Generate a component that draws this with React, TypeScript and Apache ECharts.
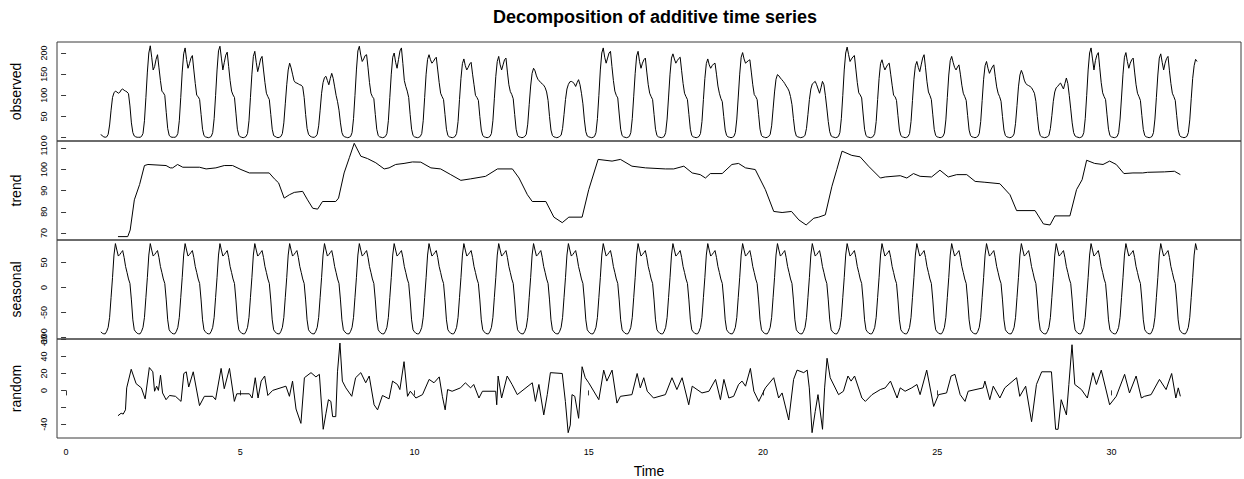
import React, { useEffect, useRef } from "react";
import * as echarts from "echarts";

const FONT = "'Liberation Sans', Arial, Helvetica, sans-serif";

// observed: hourly values (frequency 24), one row per day, starting at time 1
const observedDays: number[][] = [
  [8, 4, 2, 1, 2, 8, 30, 65, 95, 106, 110, 108, 105, 107, 113, 115, 112, 110, 108, 104, 75, 35, 12, 4],
  [2, 1, 1, 1, 3, 10, 40, 95, 155, 200, 217, 190, 160, 168, 185, 196, 165, 135, 110, 106, 100, 60, 22, 6],
  [2, 1, 1, 1, 3, 10, 40, 95, 155, 198, 212, 185, 164, 175, 188, 194, 160, 128, 100, 97, 90, 55, 20, 5],
  [2, 1, 0, 1, 3, 12, 45, 100, 160, 205, 216, 188, 160, 178, 195, 202, 168, 135, 110, 101, 95, 58, 20, 6],
  [2, 1, 0, 1, 3, 10, 40, 95, 150, 192, 204, 178, 156, 170, 186, 192, 160, 130, 105, 97, 90, 55, 20, 5],
  [3, 1, 0, 1, 3, 10, 35, 80, 125, 160, 176, 165, 150, 135, 130, 129, 127, 125, 124, 120, 95, 55, 22, 8],
  [4, 2, 1, 1, 3, 8, 28, 65, 105, 130, 142, 145, 135, 125, 140, 152, 140, 120, 100, 85, 65, 35, 12, 4],
  [2, 1, 0, 1, 3, 12, 45, 100, 160, 205, 216, 195, 180, 186, 194, 196, 165, 130, 105, 97, 92, 55, 20, 5],
  [2, 1, 0, 1, 3, 10, 40, 95, 150, 190, 200, 178, 164, 185, 205, 212, 175, 135, 121, 110, 95, 55, 20, 5],
  [2, 1, 0, 1, 3, 10, 40, 95, 150, 185, 196, 184, 176, 180, 186, 190, 160, 130, 105, 97, 90, 55, 20, 5],
  [2, 1, 0, 1, 3, 10, 38, 90, 140, 175, 186, 170, 160, 166, 174, 178, 150, 125, 100, 95, 88, 50, 18, 5],
  [2, 1, 0, 1, 3, 10, 40, 92, 145, 180, 192, 172, 160, 172, 184, 188, 155, 125, 109, 102, 92, 55, 20, 5],
  [2, 1, 0, 1, 3, 8, 32, 78, 122, 152, 164, 158, 146, 138, 134, 130, 127, 124, 118, 108, 88, 50, 18, 5],
  [2, 1, 0, 1, 3, 6, 22, 55, 90, 115, 126, 132, 133, 131, 128, 121, 130, 137, 125, 105, 80, 42, 14, 4],
  [2, 1, 0, 1, 3, 12, 45, 100, 160, 200, 212, 190, 176, 188, 200, 204, 168, 135, 110, 100, 94, 56, 20, 5],
  [2, 1, 0, 1, 3, 12, 45, 98, 152, 193, 204, 180, 164, 176, 184, 188, 155, 125, 105, 97, 90, 55, 20, 5],
  [2, 1, 0, 1, 3, 12, 44, 96, 150, 188, 198, 186, 176, 182, 187, 190, 158, 128, 105, 97, 90, 55, 20, 5],
  [2, 1, 0, 1, 3, 10, 38, 90, 140, 175, 186, 172, 164, 170, 174, 176, 150, 122, 105, 93, 85, 50, 18, 5],
  [2, 1, 0, 1, 3, 12, 44, 96, 150, 190, 201, 186, 176, 179, 182, 184, 155, 125, 102, 97, 90, 55, 20, 5],
  [2, 1, 0, 1, 3, 8, 28, 68, 108, 138, 149, 146, 141, 137, 133, 128, 122, 117, 110, 97, 78, 45, 16, 4],
  [2, 1, 0, 1, 2, 6, 22, 55, 90, 115, 127, 130, 133, 125, 115, 105, 118, 133, 125, 100, 70, 38, 14, 4],
  [2, 1, 0, 1, 3, 12, 45, 100, 160, 200, 214, 196, 180, 186, 191, 194, 162, 130, 106, 101, 94, 56, 20, 5],
  [2, 1, 0, 1, 3, 10, 38, 90, 140, 175, 184, 170, 160, 167, 173, 176, 150, 124, 100, 97, 88, 52, 18, 5],
  [2, 1, 0, 1, 3, 10, 38, 88, 138, 170, 180, 166, 156, 172, 188, 196, 165, 132, 108, 100, 90, 54, 19, 5],
  [2, 1, 0, 1, 3, 11, 42, 95, 148, 182, 192, 178, 166, 160, 167, 172, 150, 124, 105, 97, 88, 52, 18, 5],
  [2, 1, 0, 1, 3, 10, 38, 88, 138, 170, 180, 164, 152, 160, 167, 172, 145, 120, 105, 97, 86, 50, 18, 5],
  [2, 1, 0, 1, 3, 9, 34, 76, 120, 148, 159, 150, 136, 128, 125, 123, 121, 118, 112, 105, 86, 50, 18, 5],
  [2, 1, 0, 1, 2, 6, 22, 52, 86, 108, 118, 121, 126, 129, 122, 115, 128, 141, 128, 100, 68, 35, 12, 4],
  [2, 1, 0, 1, 3, 12, 45, 100, 160, 200, 212, 186, 160, 182, 195, 201, 165, 130, 106, 97, 90, 54, 20, 5],
  [2, 1, 0, 1, 3, 12, 44, 96, 150, 190, 201, 180, 164, 176, 184, 188, 155, 125, 105, 97, 88, 52, 19, 5],
  [2, 1, 0, 1, 3, 12, 44, 95, 148, 188, 198, 178, 160, 176, 187, 192, 158, 128, 105, 97, 88, 52, 19, 5],
  [2, 1, 0, 1, 3, 12, 42, 92, 140, 170, 185, 180],
];

// seasonal figure (one value per hour of the cycle)
const seasonalFigure = [-89, -92, -93, -93, -88, -80, -60, -20, 20, 65, 88, 75, 63, 66, 70, 74, 60, 42, 30, 17, 8, -25, -65, -85];

// trend readings (time, value)
const trendTime = [1.49, 1.77, 1.84, 1.96, 2.11, 2.25, 2.35, 2.87, 2.99, 3.06, 3.2, 3.35, 3.83, 4.02, 4.3, 4.54, 4.78, 5.02, 5.26, 5.83, 5.98, 6.1, 6.26, 6.41, 6.55, 6.79, 6.93, 7.08, 7.22, 7.36, 7.74, 7.82, 7.98, 8.13, 8.27, 8.46, 8.65, 8.89, 9.13, 9.27, 9.46, 9.7, 9.94, 10.18, 10.47, 10.75, 11.04, 11.33, 11.61, 12.04, 12.38, 12.81, 13.0, 13.24, 13.38, 13.77, 14.0, 14.24, 14.43, 14.81, 15.0, 15.27, 15.67, 15.91, 16.24, 16.63, 17.2, 17.44, 17.73, 17.97, 18.2, 18.35, 18.49, 18.83, 19.11, 19.3, 19.5, 19.78, 20.07, 20.31, 20.55, 20.82, 21.03, 21.24, 21.46, 21.6, 21.79, 21.98, 22.12, 22.27, 22.55, 22.79, 23.03, 23.37, 23.51, 23.94, 24.13, 24.32, 24.51, 24.84, 25.08, 25.32, 25.56, 25.85, 26.09, 26.37, 26.8, 27.09, 27.28, 27.81, 28.05, 28.24, 28.38, 28.81, 29.0, 29.16, 29.29, 29.52, 29.76, 29.95, 30.14, 30.36, 30.62, 30.9, 31.04, 31.52, 31.81, 31.98];
const trendValue = [68.3, 68.3, 71.4, 85.7, 92.9, 101.9, 102.4, 101.9, 100.8, 100.8, 102.4, 101.1, 101.1, 100.3, 100.8, 101.9, 101.9, 100, 98.4, 98.4, 95.6, 93.7, 86.5, 88.1, 89.2, 89.7, 85.7, 81.7, 81.3, 84.9, 84.9, 86.5, 98.4, 105.6, 112.4, 106.3, 105.2, 103.2, 100.3, 100.8, 102.4, 102.9, 103.6, 103.5, 100.8, 100.3, 97.6, 94.9, 95.6, 96.8, 100.3, 100.3, 96, 88.1, 84.9, 84.9, 77.5, 74.9, 77.5, 77.5, 90.5, 104.8, 104, 104.8, 101.6, 100.8, 100.3, 100.3, 101.6, 98.4, 97.6, 96, 98.1, 98.1, 102.4, 102.9, 100.8, 100, 90.5, 80.2, 79.7, 80.2, 76.2, 73.8, 77, 77.5, 78.6, 92.1, 100, 108.7, 106.7, 106, 101.6, 96, 96.5, 97.1, 96, 98.1, 96.8, 96.5, 99.7, 96.5, 97.6, 97.6, 94.4, 94, 93.3, 88.1, 80.6, 80.6, 74.3, 73.8, 78.1, 78.1, 90.5, 95.2, 104.4, 102.9, 102.4, 104, 102.4, 98.1, 98.4, 98.4, 98.7, 98.9, 99.2, 97.6];

// random readings (time, value)
const randomTime = [1.49, 1.58, 1.64, 1.705, 1.74, 1.87, 2.01, 2.16, 2.27, 2.39, 2.49, 2.54, 2.6, 2.65, 2.71, 2.77, 2.87, 2.97, 3.14, 3.3, 3.38, 3.45, 3.52, 3.65, 3.83, 3.97, 4.21, 4.29, 4.45, 4.54, 4.69, 4.83, 4.9, 5.26, 5.34, 5.43, 5.51, 5.6, 5.7, 5.79, 5.93, 6.31, 6.41, 6.5, 6.6, 6.74, 6.84, 7.03, 7.17, 7.27, 7.38, 7.46, 7.53, 7.6, 7.65, 7.74, 7.79, 7.86, 7.93, 8.03, 8.2, 8.31, 8.46, 8.6, 8.7, 8.84, 8.94, 9.08, 9.27, 9.37, 9.51, 9.58, 9.7, 9.8, 9.88, 10.04, 10.23, 10.42, 10.56, 10.71, 10.8, 10.88, 10.95, 11.08, 11.32, 11.46, 11.61, 11.7, 11.85, 11.95, 12.33, 12.36, 12.4, 12.5, 12.66, 12.8, 12.95, 13.38, 13.47, 13.57, 13.71, 13.81, 13.9, 14.24, 14.33, 14.41, 14.47, 14.52, 14.6, 14.71, 14.81, 14.9, 15.0, 15.29, 15.43, 15.52, 15.67, 15.81, 15.91, 16.24, 16.39, 16.48, 16.58, 16.68, 16.86, 17.2, 17.39, 17.53, 17.68, 17.87, 17.97, 18.25, 18.45, 18.64, 18.78, 18.88, 19.02, 19.16, 19.3, 19.4, 19.5, 19.64, 19.74, 19.88, 20.07, 20.31, 20.45, 20.55, 20.74, 20.88, 20.98, 21.17, 21.27, 21.33, 21.41, 21.5, 21.58, 21.71, 21.77, 21.84, 21.93, 22.17, 22.31, 22.44, 22.53, 22.63, 22.84, 22.94, 23.13, 23.37, 23.51, 23.66, 23.85, 23.94, 24.08, 24.27, 24.42, 24.51, 24.7, 24.9, 25.04, 25.27, 25.4, 25.51, 25.66, 25.8, 25.89, 26.32, 26.37, 26.51, 26.61, 26.8, 26.94, 27.28, 27.37, 27.54, 27.71, 27.85, 28.0, 28.28, 28.4, 28.47, 28.56, 28.71, 28.78, 28.87, 28.95, 29.14, 29.31, 29.47, 29.57, 29.71, 29.95, 30.14, 30.38, 30.52, 30.71, 30.86, 30.95, 31.14, 31.38, 31.57, 31.73, 31.85, 31.92, 31.98];
const randomValue = [-30, -27, -28, -23, 3, 25, 8, 3, -10, 27, 22, -1, 5, 0, 18, -3, -11, -6, -7, -13, 20, 22, 4, 22, -18, -7, -7, -11, 26, 2, 26, -13, -4, -4, -9, 15, -9, 11, 17, -6, 0, 5, -7, 11, -22, -39, 15, 21, 16, 19, -46, -27, -11, -13, -31, -31, 22, 56, 11, 3, -7, 15, 21, 9, 17, -17, -23, -6, -10, 11, 7, 1, 34, -7, -1, -9, -5, 13, 9, 16, -7, -23, 1, -1, 3, 9, 3, 7, -9, -1, -1, -17, 17, -9, 17, 7, -5, 9, -13, 7, -29, -5, 21, 20, -13, -50, -41, -5, -7, -33, 28, 15, 9, -11, 24, 11, 24, -15, -7, -5, 20, 3, 15, -1, -9, -5, 15, 1, 15, -17, 5, -3, -1, 13, -11, 13, -9, -7, 7, 11, 5, 26, -1, -13, 3, 15, -9, -3, -35, 13, 24, 21, 24, 3, -50, -25, -5, -46, 3, 38, 15, -5, -1, 17, 11, 17, -9, -13, -5, 1, 3, 11, -9, 3, -1, 3, 7, -5, 24, -19, -5, -3, 17, 19, -5, -13, -1, 3, 11, -11, 5, -9, 3, 15, -7, 5, -37, 7, 22, 22, -46, -46, -11, -29, 7, 54, 7, 1, -9, 21, 7, 24, -17, -7, 19, -3, 17, -9, -7, -5, 13, 1, 20, -9, 3, -7];

const timeTicks = [0, 5, 10, 15, 20, 25, 30];
const observedTicks = [0, 50, 100, 150, 200];
const trendTicks = [70, 80, 90, 100, 110];
const seasonalTicks = [-100, -50, 0, 50];
const randomTicks = [-40, -20, 0, 20, 40, 60];
const randomLabels = [-40, 0, 20, 40, 60];

export default function App() {
  const ref = useRef<HTMLDivElement>(null);

  useEffect(() => {
    const chart = echarts.init(ref.current!, null, { renderer: "svg" });

    const observedValues = observedDays.flat();
    const observedData = observedValues.map((v, i) => [1 + i / 24, v]);
    const seasonalData = observedValues.map((_, i) => [1 + i / 24, seasonalFigure[i % 24]]);
    const trendData = trendTime.map((t, i) => [t, trendValue[i]]);
    const randomData = randomTime.map((t, i) => [t, randomValue[i]]);

    const L = 57;
    const W = 1184;
    const H = 99;
    const tops = [42, 141, 240, 339];
    const grids = tops.map((top) => ({
      left: L,
      width: W,
      top,
      height: H,
      show: true,
      borderColor: "#3a3a3a",
      borderWidth: 1,
      backgroundColor: "transparent",
    }));

    const xAxes = tops.map((_, i) => {
      const last = i === 3;
      return {
        type: "value",
        gridIndex: i,
        min: -0.26,
        max: 33.72,
        show: last,
        name: last ? "Time" : "",
        nameLocation: "middle",
        nameGap: 26,
        nameTextStyle: { fontSize: 14, fontFamily: FONT, color: "#000" },
        axisLine: { show: false },
        splitLine: { show: false },
        axisTick: { show: true, length: 5, lineStyle: { color: "#3a3a3a" }, customValues: timeTicks },
        axisLabel: { fontSize: 9, margin: 9, color: "#000", fontFamily: FONT, customValues: timeTicks },
      };
    });

    const mkY = (i: number, name: string, min: number, max: number, ticks: number[], labels: number[]) => ({
      type: "value",
      gridIndex: i,
      min,
      max,
      name,
      nameLocation: "middle",
      nameGap: 34,
      nameTextStyle: { fontSize: 14, fontFamily: FONT, color: "#000" },
      axisLine: { show: false },
      splitLine: { show: false },
      axisTick: { show: true, length: 5, lineStyle: { color: "#3a3a3a" }, customValues: ticks },
      axisLabel: { rotate: 90, fontSize: 9, margin: 9, color: "#000", fontFamily: FONT, customValues: labels },
    });

    const yAxes = [
      mkY(0, "observed", -7.8, 226, observedTicks, observedTicks),
      mkY(1, "trend", 66.7, 113.5, trendTicks, trendTicks),
      mkY(2, "seasonal", -103.4, 95.2, seasonalTicks, seasonalTicks),
      mkY(3, "random", -56.3, 60.8, randomTicks, randomLabels),
    ];

    const line = (i: number, data: number[][]) => ({
      type: "line",
      xAxisIndex: i,
      yAxisIndex: i,
      data,
      showSymbol: false,
      symbol: "none",
      lineStyle: { color: "#000", width: 1 },
      silent: true,
    });

    chart.setOption({
      animation: false,
      backgroundColor: "#fff",
      title: {
        text: "Decomposition of additive time series",
        left: 488,
        top: 3,
        textStyle: { fontSize: 18, fontWeight: "bold", fontFamily: FONT, color: "#000" },
      },
      grid: grids,
      xAxis: xAxes,
      yAxis: yAxes,
      series: [line(0, observedData), line(1, trendData), line(2, seasonalData), line(3, randomData)],
    });

    return () => chart.dispose();
  }, []);

  return (
    <div
      ref={ref}
      style={{ position: "fixed", left: 0, top: 0, width: 1244, height: 479, background: "#fff" }}
    />
  );
}
